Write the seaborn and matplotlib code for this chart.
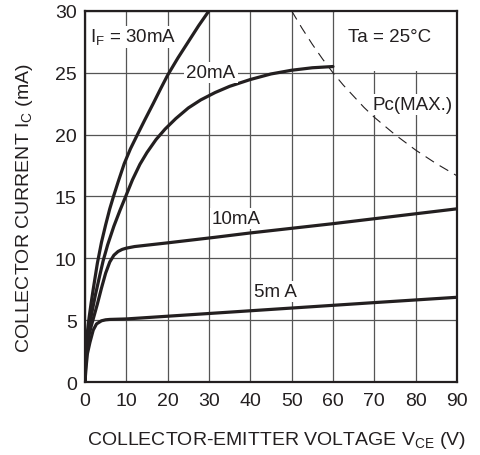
import matplotlib
matplotlib.use("Agg")
import matplotlib.pyplot as plt
import seaborn as sns
import pandas as pd
from matplotlib.patches import Rectangle

# ---- data ----
vce_30 = [0, 0.2, 0.5, 1, 1.5, 2, 3, 4, 5, 6, 6.9, 8, 9.5, 11, 12.7, 14.5, 16.5, 18.3, 20, 22.5, 25, 27.5, 30]
ic_30 = [0, 2.2, 3.8, 5.2, 6.4, 7.5, 9.6, 11.3, 12.7, 14.0, 15.0, 16.15, 17.65, 18.85, 20.0, 21.2, 22.5, 23.7, 24.8, 26.2, 27.5, 28.8, 30.0]

vce_20 = [0, 0.2, 0.5, 1, 1.6, 2.5, 3.5, 4.4, 5.5, 7, 8.5, 9.85, 11.5, 13.3, 15, 17.2, 19.4, 22, 25, 28, 31.5, 35, 40, 45, 50, 55, 60]
ic_20 = [0, 1.8, 3.1, 4.3, 5.5, 7.0, 8.5, 9.8, 11.1, 12.6, 13.9, 15.0, 16.35, 17.6, 18.55, 19.6, 20.45, 21.3, 22.15, 22.8, 23.4, 23.9, 24.45, 24.9, 25.2, 25.4, 25.5]

vce_10 = [0, 0.2, 0.5, 1, 1.5, 2, 3, 4, 5, 6, 7, 8, 9, 10, 12, 20, 31.5, 40, 60, 90]
ic_10 = [0, 1.7, 2.8, 3.8, 4.5, 5.1, 6.3, 7.6, 8.8, 9.7, 10.25, 10.55, 10.72, 10.82, 10.95, 11.25, 11.7, 12.05, 12.8, 14.0]

vce_5 = [0, 0.3, 0.6, 1.2, 2, 2.8, 4, 5, 6, 10, 30, 50, 70, 90]
ic_5 = [0, 1.3, 2.3, 3.2, 4.2, 4.7, 4.95, 5.03, 5.06, 5.1, 5.54, 5.98, 6.42, 6.85]

vce_pc = [50, 52.5, 55, 57.5, 60, 62.5, 65, 67.5, 70, 75, 80, 85, 90]
ic_pc = [30.0, 28.6, 27.3, 26.1, 25.0, 24.0, 23.1, 22.2, 21.4, 20.0, 18.75, 17.65, 16.67]

x_ticks = [0, 10, 20, 30, 40, 50, 60, 70, 80, 90]
y_ticks = [0, 5, 10, 15, 20, 25, 30]

curves = [
    ("30mA", vce_30, ic_30),
    ("20mA", vce_20, ic_20),
    ("10mA", vce_10, ic_10),
    ("5mA", vce_5, ic_5),
]

INK = '#231f20'

sns.set_theme(style="white")
plt.rcParams['font.family'] = ['Liberation Sans', 'DejaVu Sans']
plt.rcParams['mathtext.fontset'] = 'custom'
plt.rcParams['mathtext.rm'] = 'Liberation Sans'

fig = plt.figure(figsize=(4.8, 4.56), dpi=100)
ax = fig.add_axes([0.177, 0.160, 0.775, 0.814])

ax.set_xlim(0, 90)
ax.set_ylim(0, 30)
ax.set_xticks(x_ticks)
ax.set_yticks(y_ticks)
ax.set_axisbelow(True)
ax.grid(True, color='#555555', lw=0.9)

# white area that hides grid behind the Ta label
ax.add_patch(Rectangle((60.6, 25.15), 29.3, 4.8, facecolor='white', edgecolor='none', zorder=1))

for name, xs, ys in curves:
    df = pd.DataFrame({"VCE": xs, "IC": ys})
    sns.lineplot(data=df, x="VCE", y="IC", ax=ax, color=INK, lw=2.3,
                 sort=False, zorder=3)

dfp = pd.DataFrame({"VCE": vce_pc, "IC": ic_pc})
sns.lineplot(data=dfp, x="VCE", y="IC", ax=ax, color=INK, lw=0.8,
             linestyle=(0, (9, 6)), sort=False, zorder=3)

box = dict(facecolor='white', edgecolor='none', pad=1.5)
fs = 13.5
ax.text(1.2, 27.9, r"I$_\mathregular{F}$ = 30mA", fontsize=fs, ha='left', va='center', color=INK,
        bbox=dict(facecolor='white', edgecolor='none', pad=0.8), zorder=2)
ax.text(30.5, 25.0, "20mA", fontsize=fs, ha='center', va='center', color=INK, bbox=box, zorder=4)
ax.text(73.8, 27.9, "Ta = 25°C", fontsize=fs, ha='center', va='center', color=INK, zorder=4)
ax.text(79.2, 22.4, "Pc(MAX.)", fontsize=fs, ha='center', va='center', color=INK, bbox=box, zorder=4)
ax.text(36.6, 13.2, "10mA", fontsize=fs, ha='center', va='center', color=INK, bbox=box, zorder=4)
ax.text(46.2, 7.35, "5m A", fontsize=fs, ha='center', va='center', color=INK, bbox=box, zorder=4)

for s in ax.spines.values():
    s.set_color(INK)
    s.set_linewidth(1.6)
    s.set_zorder(5)

ax.tick_params(axis='both', length=0, labelsize=14, colors=INK)
ax.tick_params(axis='x', pad=7)
ax.tick_params(axis='y', pad=6)

ax.set_xlabel(r"COLLECTOR-EMITTER VOLTAGE V$_\mathregular{CE}$ (V)", fontsize=14, color=INK)
ax.set_ylabel(r"COLLECTOR CURRENT I$_\mathregular{C}$ (mA)", fontsize=14, color=INK)
ax.xaxis.set_label_coords(0.516, -0.127)
ax.yaxis.set_label_coords(-0.133, 0.472)

fig.savefig("out.png", dpi=100)
